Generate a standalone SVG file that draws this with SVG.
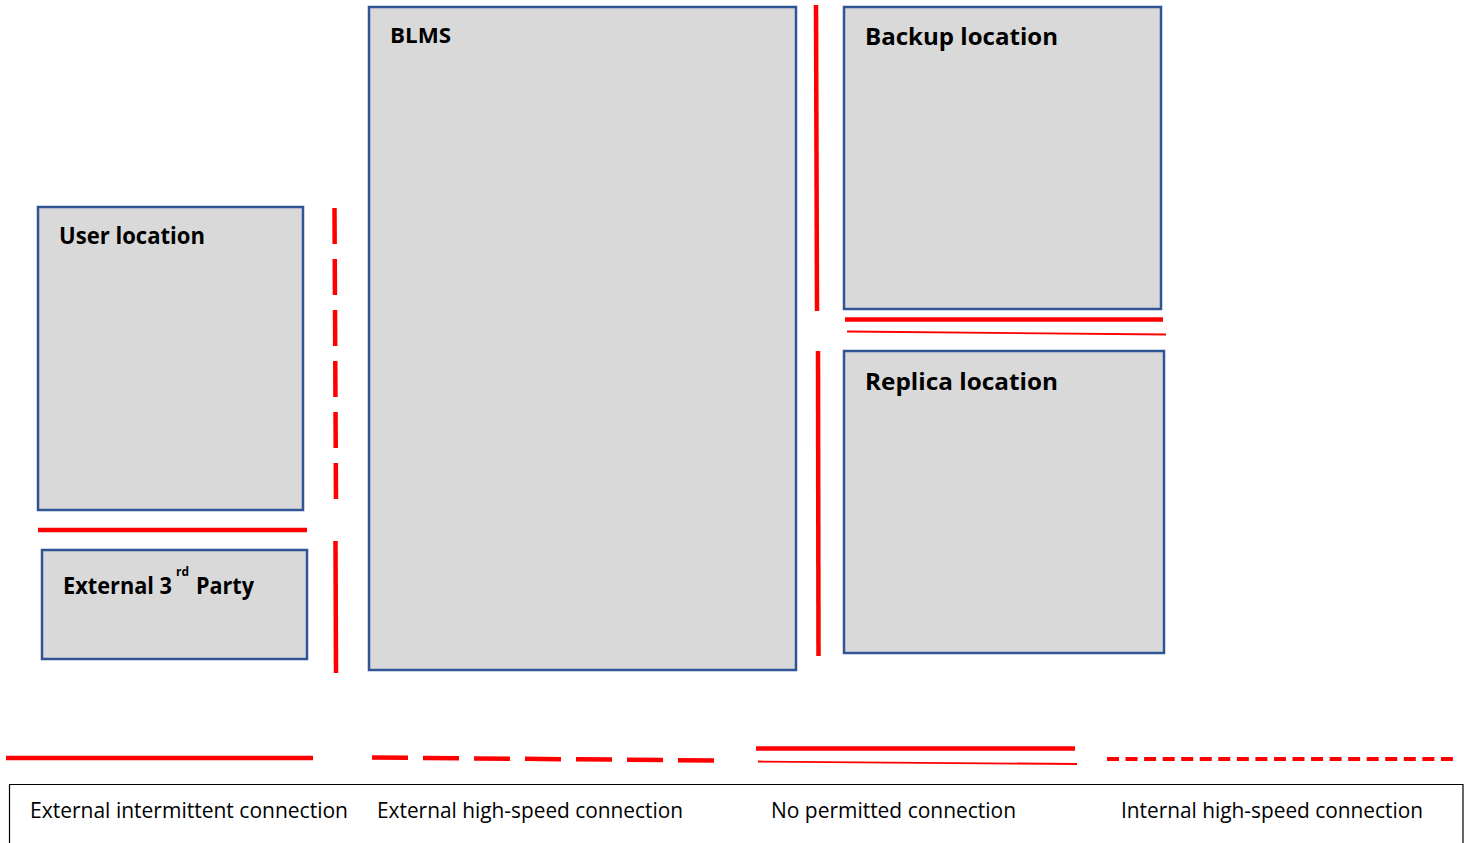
<svg xmlns="http://www.w3.org/2000/svg" width="1466" height="843" viewBox="0 0 1466 843">
  <style>
    .box { fill: #D9D9D9; stroke: #2F5597; stroke-width: 2.5; }
    .title { font-family: "Open Sans", "Liberation Sans", sans-serif; font-weight: bold; fill: #000; }
    .legend-text { font-family: "Open Sans", "Liberation Sans", sans-serif; font-size: 21px; fill: #000; }
    .red { stroke: #FF0000; fill: none; stroke-linecap: butt; }
    .solid { stroke-width: 4.5; }
    .dashed { stroke-width: 4.5; stroke-dasharray: 36 15; }
    .dotted { stroke-width: 4; stroke-dasharray: 12 6.55; }
    .thin { stroke-width: 1.8; }
  </style>

  <!-- Locations -->
  <g id="blms">
    <rect class="box" x="369" y="7" width="427" height="663"/>
    <text class="title" x="390" y="43" font-size="22" textLength="61" lengthAdjust="spacingAndGlyphs">BLMS</text>
  </g>
  <g id="user-location">
    <rect class="box" x="38" y="207" width="265" height="303"/>
    <text class="title" x="59" y="244" font-size="23" textLength="146" lengthAdjust="spacingAndGlyphs">User location</text>
  </g>
  <g id="external-3rd-party">
    <rect class="box" x="42" y="550" width="265" height="109"/>
    <text class="title" x="63" y="594" font-size="23" textLength="109" lengthAdjust="spacingAndGlyphs">External 3</text>
    <text class="title" x="176" y="576" font-size="13" textLength="13" lengthAdjust="spacingAndGlyphs">rd</text>
    <text class="title" x="196" y="594" font-size="23" textLength="58" lengthAdjust="spacingAndGlyphs">Party</text>
  </g>
  <g id="backup-location">
    <rect class="box" x="844" y="7" width="317" height="302"/>
    <text class="title" x="865" y="45" font-size="23" textLength="193" lengthAdjust="spacingAndGlyphs">Backup location</text>
  </g>
  <g id="replica-location">
    <rect class="box" x="844" y="351" width="320" height="302"/>
    <text class="title" x="865" y="390" font-size="23" textLength="193" lengthAdjust="spacingAndGlyphs">Replica location</text>
  </g>

  <!-- Connections between locations -->
  <g id="connectors">
    <!-- user location to BLMS: external high-speed -->
    <line class="red dashed" x1="334.5" y1="208" x2="336" y2="503"/>
    <!-- external 3rd party to BLMS: external intermittent -->
    <line class="red solid" x1="335.5" y1="541" x2="336" y2="673"/>
    <!-- user location to external 3rd party: external intermittent -->
    <line class="red solid" x1="38" y1="530" x2="307" y2="530"/>
    <!-- BLMS to backup / replica -->
    <line class="red solid" x1="816" y1="5" x2="817" y2="311"/>
    <line class="red solid" x1="818" y1="351" x2="818.5" y2="656"/>
    <!-- backup to replica: no permitted connection -->
    <line class="red solid" x1="845" y1="319.5" x2="1163" y2="319.5"/>
    <line class="red thin" x1="847" y1="331.5" x2="1166" y2="334.5"/>
  </g>

  <!-- Legend -->
  <g id="legend">
    <line class="red solid" x1="6" y1="758" x2="313" y2="758"/>
    <line class="red dashed" x1="372" y1="757.5" x2="715" y2="760.5"/>
    <line class="red solid" x1="756" y1="748.5" x2="1075" y2="748.5"/>
    <line class="red thin" x1="758" y1="761.5" x2="1077" y2="764"/>
    <line class="red dotted" x1="1107" y1="759" x2="1453" y2="759"/>
    <path d="M9.5 843 V784.5 H1463 V843" fill="none" stroke="#000" stroke-width="1.2"/>
    <text class="legend-text" x="30" y="818" textLength="318" lengthAdjust="spacingAndGlyphs">External intermittent connection</text>
    <text class="legend-text" x="377" y="818" textLength="306" lengthAdjust="spacingAndGlyphs">External high-speed connection</text>
    <text class="legend-text" x="771" y="818" textLength="245" lengthAdjust="spacingAndGlyphs">No permitted connection</text>
    <text class="legend-text" x="1121" y="818" textLength="302" lengthAdjust="spacingAndGlyphs">Internal high-speed connection</text>
  </g>
</svg>
